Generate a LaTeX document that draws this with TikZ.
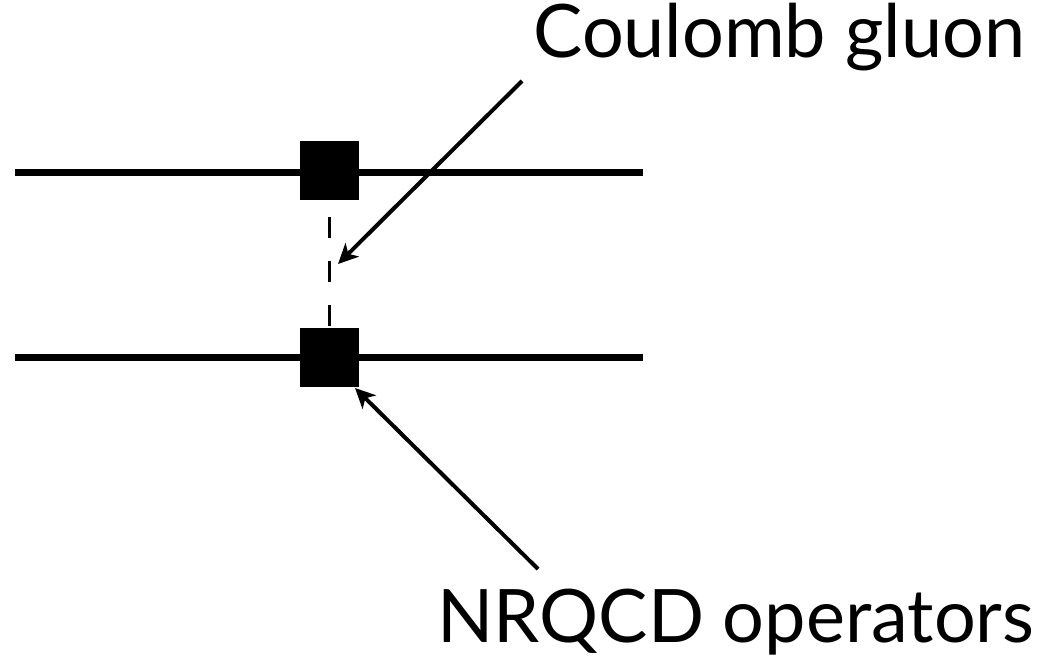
\documentclass[tikz,border=0pt]{standalone}
\usepackage{fontspec}
\setmainfont{Lato}
\usetikzlibrary{arrows.meta,positioning}

\begin{document}
\begin{tikzpicture}[
  x=0.2mm,y=-0.2mm,
  vertex/.style={rectangle,fill=black,minimum size=1.18cm,inner sep=0pt},
  quark/.style={line width=0.14cm},
  coul/.style={line width=0.07cm,dash pattern=on 0.42cm off 0.46cm,
               dash phase=0.54cm},
  arr/.style={-{Stealth[length=0.4cm,width=0.38cm,inset=0.11cm]},
              line width=0.08cm},
  lbl/.style={font=\fontsize{42}{48}\selectfont,inner sep=0pt},
]
  \useasboundingbox (0,0) rectangle (1057,662);

  % Quark lines
  \coordinate (t1) at (15,172.5);
  \coordinate (t2) at (643,172.5);
  \coordinate (b1) at (15,357.5);
  \coordinate (b2) at (643,357.5);
  \draw[quark] (t1) -- (t2);
  \draw[quark] (b1) -- (b2);

  % Vertices
  \node[vertex] (vtop) at (329.5,170.5) {};
  \node[vertex] (vbot) at (329.5,357) {};

  % Exchanged gluon
  \draw[coul] (vtop.south) -- (vbot.north);

  % Labels
  \node[lbl,anchor=base west] (glab) at (533,58) {Coulomb gluon};
  \node[lbl,anchor=base west] (olab) at (437,642) {NRQCD operators};

  % Pointers
  \coordinate (gs) at (522,81);
  \coordinate (gt) at (338,264);
  \coordinate (os) at (538,569);
  \coordinate (ot) at (355,388);
  \draw[arr] (gs) -- (gt);
  \draw[arr] (os) -- (ot);
\end{tikzpicture}
\end{document}
